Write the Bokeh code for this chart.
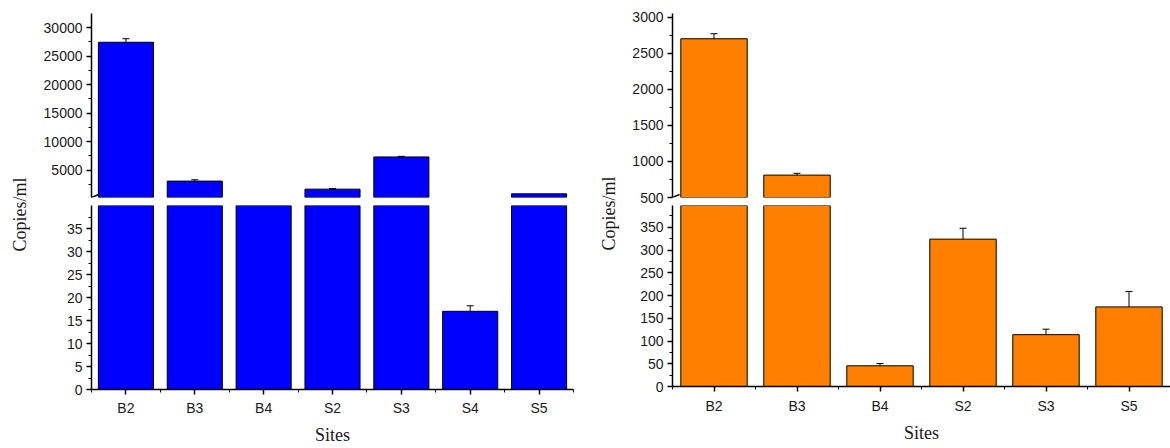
import numpy as np
from bokeh.plotting import figure
from bokeh.layouts import row, column
from bokeh.models import Range1d, FixedTicker, ColumnDataSource, Whisker, TeeHead, Label, Arrow
from bokeh.embed import file_html
from bokeh.resources import INLINE

# ---------------- data ----------------
left_sites = ["B2", "B3", "B4", "S2", "S3", "S4", "S5"]
left_values = [27450, 3080, 150, 1670, 7320, 17.0, 840]
left_errors = [620, 230, 0, 90, 110, 1.2, 0]

right_sites = ["B2", "B3", "B4", "S2", "S3", "S5"]
right_values = [2700, 810, 45.5, 324, 114, 175]
right_errors = [70, 25, 5, 24, 12, 34]

left_lower_ticks = [0, 5, 10, 15, 20, 25, 30, 35]
left_upper_ticks = [5000, 10000, 15000, 20000, 25000, 30000]
right_lower_ticks = [0, 50, 100, 150, 200, 250, 300, 350]
right_upper_ticks = [500, 1000, 1500, 2000, 2500, 3000]

left_lower_lim = (0, 40)
left_upper_lim = (200, 32500)
right_lower_lim = (0, 398)
right_upper_lim = (500, 3050)

TICK_FONT = "Liberation Sans"
TITLE_FONT = "Liberation Serif"
TOTAL_H = 448


def style_y(ax, ticks, minor):
    ax.ticker = FixedTicker(ticks=ticks, minor_ticks=minor)
    ax.axis_line_width = 1.5
    ax.axis_line_color = "black"
    ax.major_tick_line_width = 1.5
    ax.major_tick_line_color = "black"
    ax.minor_tick_line_color = "black"
    ax.minor_tick_line_width = 1
    ax.major_tick_in = 0
    ax.major_tick_out = 5
    ax.minor_tick_in = 0
    ax.minor_tick_out = 3
    ax.major_label_text_font = TICK_FONT
    ax.major_label_text_font_size = "14px"
    ax.major_label_text_color = "#1a1a1a"
    ax.major_label_standoff = 4


def base_fig(fw, fh, xr, yr, lb, rb, tb, bb, xaxis):
    p = figure(frame_width=fw, frame_height=fh, x_range=xr, y_range=yr,
               output_backend="svg", toolbar_location=None,
               x_axis_location="below" if xaxis else None,
               min_border_left=lb, min_border_right=rb,
               min_border_top=tb, min_border_bottom=bb)
    p.grid.visible = False
    p.outline_line_color = None
    p.background_fill_color = "white"
    p.border_fill_color = "white"
    return p


def whisk(src):
    return Whisker(base="x", upper="upper", lower="lower", source=src,
                   line_color="black", line_width=1,
                   upper_head=TeeHead(size=7, line_color="black", line_width=1),
                   lower_head=TeeHead(size=7, line_color="black", line_width=1))


def panel(sites, values, errors, lower_lim, upper_lim, lower_ticks, upper_ticks,
          color, fw, lb, rb, lower_fh, title_w, title_pos, xlab_standoff, sites_standoff):
    n = len(sites)
    xs = np.arange(n)
    vals = np.asarray(values, dtype=float)
    errs = np.asarray(errors, dtype=float)
    xr = Range1d(-0.5, n - 0.5)
    upper_fh = 184
    top_b = 13
    gap = 8

    lstep = lower_ticks[1] - lower_ticks[0]
    ustep = upper_ticks[1] - upper_ticks[0]
    lower_minor = list(np.arange(lstep / 2, lower_lim[1], lstep))
    upper_minor = [v for v in np.arange(ustep / 2, upper_lim[1], ustep) if v > upper_lim[0]]

    # upper segment
    up = base_fig(fw, upper_fh, xr, Range1d(*upper_lim), lb, rb, top_b, gap, False)
    style_y(up.yaxis[0], upper_ticks, upper_minor)
    m = vals > upper_lim[0]
    up.vbar(x=xs[m], bottom=upper_lim[0], top=vals[m], width=0.8,
            fill_color=color, line_color="black", line_width=1)
    me = m & (errs > 0)
    up.add_layout(whisk(ColumnDataSource(dict(x=xs[me], upper=vals[me] + errs[me],
                                               lower=vals[me] - errs[me]))))

    # lower segment
    bottom_b = TOTAL_H - top_b - upper_fh - gap - lower_fh
    lo = base_fig(fw, lower_fh, xr, Range1d(*lower_lim), lb, rb, 0, bottom_b, True)
    style_y(lo.yaxis[0], lower_ticks, lower_minor)
    tops = np.minimum(vals, lower_lim[1])
    lo.vbar(x=xs, bottom=0, top=tops, width=0.8,
            fill_color=color, line_color="black", line_width=1)
    ml = (vals <= lower_lim[1]) & (errs > 0)
    lo.add_layout(whisk(ColumnDataSource(dict(x=xs[ml], upper=vals[ml] + errs[ml],
                                               lower=vals[ml] - errs[ml]))))

    xa = lo.xaxis[0]
    xa.ticker = FixedTicker(ticks=list(range(n)), minor_ticks=[i - 0.5 for i in range(n + 1)])
    xa.major_label_overrides = {i: s for i, s in enumerate(sites)}
    xa.axis_line_width = 1.5
    xa.axis_line_color = "black"
    xa.major_tick_line_width = 1.5
    xa.major_tick_in = 0
    xa.major_tick_out = 5
    xa.minor_tick_in = 0
    xa.minor_tick_out = 3
    xa.minor_tick_line_color = "black"
    xa.major_label_text_font = TICK_FONT
    xa.major_label_text_font_size = "14px"
    xa.major_label_text_color = "#1a1a1a"
    xa.major_label_standoff = xlab_standoff
    xa.axis_label = "Sites"
    xa.axis_label_text_font = TITLE_FONT
    xa.axis_label_text_font_style = "normal"
    xa.axis_label_text_font_size = "18px"
    xa.axis_label_text_color = "#1a1a1a"
    xa.axis_label_standoff = sites_standoff

    # break marks on the y axis (drawn in the gap below the upper segment)
    pxu = n / fw
    dyu = (upper_lim[1] - upper_lim[0]) / upper_fh
    y0 = upper_lim[0]
    up.add_layout(Arrow(x_start=-0.5 - 7 * pxu, y_start=y0 - 3 * dyu,
                        x_end=-0.5 + 7 * pxu, y_end=y0 + 3 * dyu,
                        start=None, end=None, line_color="black", line_width=1.5))
    up.add_layout(Arrow(x_start=-0.5 - 7 * pxu, y_start=y0 - 8 * dyu,
                        x_end=-0.5 + 7 * pxu, y_end=y0 - 3 * dyu,
                        start=None, end=None, line_color="black", line_width=1.5))

    col = column(up, lo, spacing=0)

    tf = figure(frame_width=title_w, frame_height=TOTAL_H, x_range=Range1d(0, title_w),
                y_range=Range1d(0, TOTAL_H), output_backend="svg", toolbar_location=None,
                x_axis_location=None, y_axis_location=None,
                min_border_left=0, min_border_right=0, min_border_top=0, min_border_bottom=0)
    tf.grid.visible = False
    tf.outline_line_color = None
    tf.add_layout(Label(x=title_pos[0], y=TOTAL_H - title_pos[1], text="Copies/ml", angle=np.pi / 2,
                        text_align="center", text_baseline="middle",
                        text_font=TITLE_FONT, text_font_size="18px", text_color="#1a1a1a"))
    return row(tf, col, spacing=0)


left = panel(left_sites, left_values, left_errors, left_lower_lim, left_upper_lim,
             left_lower_ticks, left_upper_ticks, "#0000FF",
             fw=482, lb=59, rb=17, lower_fh=184, title_w=32, title_pos=(19, 214),
             xlab_standoff=5, sites_standoff=6)
right = panel(right_sites, right_values, right_errors, right_lower_lim, right_upper_lim,
              right_lower_ticks, right_upper_ticks, "#FF8000",
              fw=498, lb=52, rb=0, lower_fh=181, title_w=30, title_pos=(18, 213),
              xlab_standoff=6, sites_standoff=6)

p = row(left, right, spacing=0)

open("out.html", "w").write(file_html(p, INLINE))
